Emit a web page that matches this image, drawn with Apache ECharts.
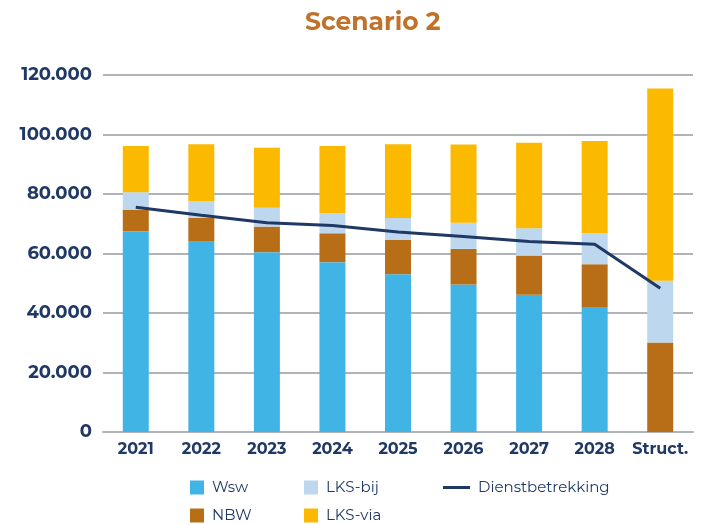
<!DOCTYPE html>
<html><head><meta charset="utf-8">
<script src="https://cdn.jsdelivr.net/npm/echarts@6/dist/echarts.min.js"></script>
<style>html,body{margin:0;padding:0;background:#fff}#c{width:705px;height:524px}</style>
</head><body><div id="c"></div>
<script>
const categories = ['2021','2022','2023','2024','2025','2026','2027','2028','Struct.'];
const wsw = [67500, 64000, 60450, 57100, 53050, 49550, 46100, 42050, 0];
const nbw = [7250, 7950, 8600, 9700, 11500, 12000, 13200, 14350, 30100];
const lksBij = [5850, 5700, 6350, 6850, 7400, 8750, 9200, 10400, 20700];
const lksVia = [15550, 19050, 20150, 22500, 24750, 26300, 28750, 31000, 64700];
const dienst = [75550, 72850, 70300, 69400, 67200, 65700, 64000, 63100, 48350];
const yTicks = [0, 20000, 40000, 60000, 80000, 100000, 120000];

const navy = '#1F3864';
const font = 'Montserrat, "Open Sans", Lato, sans-serif';
const chart = echarts.init(document.getElementById('c'));
function fmt(v){ return v === 0 ? '0' : String(v).replace(/\B(?=(\d{3})+(?!\d))/g, '.'); }
function leg(name, left, top, icon){
  return {data:[{name:name, icon:icon}], left:left, top:top, padding:0, itemWidth: icon==='rect'?14:27, itemHeight: icon==='rect'?14:3,
    itemGap:0, selectedMode:false, textStyle:{color:navy, fontSize:15, fontFamily:font, padding:[0,0,0,3]}};
}
chart.setOption({
  animation:false,
  title:{text:'Scenario 2', left:300, top:5, textStyle:{color:'#C0722A', fontSize:25, fontWeight:'bold', fontFamily:font}},
  grid:{left:103, right:12, top:75, bottom:92},
  legend:[
    leg('Wsw',190,480,'rect'), leg('LKS-bij',304,480,'rect'), leg('Dienstbetrekking',443,480,'path://M0,0H27V3H0Z'),
    leg('NBW',190,508,'rect'), leg('LKS-via',304,508,'rect')
  ],
  xAxis:{type:'category', data:categories,
    axisLine:{lineStyle:{color:'#B0B3B8', width:2}}, axisTick:{show:false},
    axisLabel:{color:navy, fontSize:16, fontWeight:'bold', fontFamily:font, margin:9, interval:0}},
  yAxis:{type:'value', min:0, max:120000, interval:20000,
    axisLine:{show:false}, axisTick:{show:false},
    splitLine:{lineStyle:{color:'#B0B3B8', width:2}},
    axisLabel:{color:navy, fontSize:18, fontWeight:'bold', fontFamily:font, margin:11,
      formatter:function(v){ return yTicks.indexOf(v)>=0 ? fmt(v) : ''; }}},
  series:[
    {name:'Wsw', type:'bar', stack:'s', data:wsw, barWidth:26, itemStyle:{color:'#41B4E6'}},
    {name:'NBW', type:'bar', stack:'s', data:nbw, barWidth:26, itemStyle:{color:'#B86E17'}},
    {name:'LKS-bij', type:'bar', stack:'s', data:lksBij, barWidth:26, itemStyle:{color:'#BDD7EE'}},
    {name:'LKS-via', type:'bar', stack:'s', data:lksVia, barWidth:26, itemStyle:{color:'#FBB900'}},
    {name:'Dienstbetrekking', type:'line', data:dienst, symbol:'none', lineStyle:{color:navy, width:3}, itemStyle:{color:navy}, z:5}
  ]
});
</script></body></html>
